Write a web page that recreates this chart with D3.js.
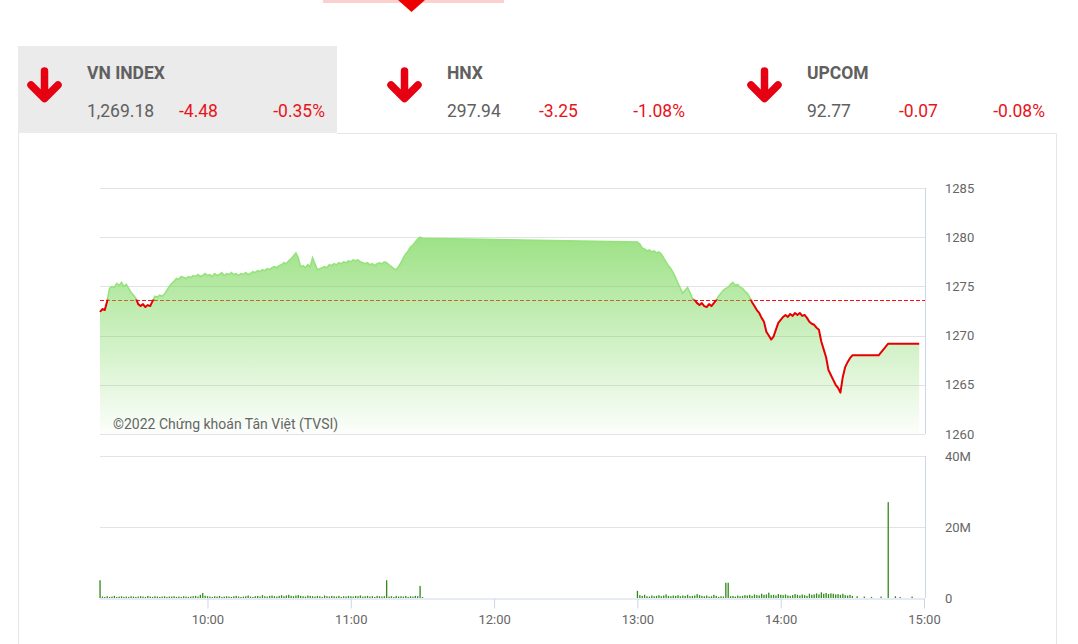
<!DOCTYPE html>
<html><head><meta charset="utf-8">
<script src="https://cdn.jsdelivr.net/npm/d3@7"></script>
<style>body{margin:0;background:#fff;} svg{display:block;font-family:Roboto,"Noto Sans",sans-serif;}</style>
</head><body><svg id="c" width="1078" height="644"></svg>
<script>
// ---------- data ----------
const indexNames = ["VN INDEX", "HNX", "UPCOM"];
const indexValues = ["1,269.18", "297.94", "92.77"];
const indexChanges = ["-4.48", "-3.25", "-0.07"];
const indexPercents = ["-0.35%", "-1.08%", "-0.08%"];

const referencePrice = 1273.66;
const priceTicks = [1260, 1265, 1270, 1275, 1280, 1285];
const volumeTicks = [0, 20, 40];
const volumeTickLabels = ["0", "20M", "40M"];
const timeTicks = ["10:00", "11:00", "12:00", "13:00", "14:00", "15:00"];
const watermark = "©2022 Chứng khoán Tân Việt (TVSI)";

// one value per minute from 09:15 to 11:30
const morningStart = "09:15";
const morningPrices = [
  1272.4,1272.7,1272.6,1273.5,1274.8,1275.0,1274.9,1275.3,1275.1,1275.4,
  1275.0,1275.2,1274.8,1274.4,1274.1,1273.8,1273.2,1273.0,1273.2,1272.9,
  1273.1,1273.0,1273.5,1274.0,1273.9,1274.1,1274.0,1274.2,1274.6,1275.0,
  1275.3,1275.5,1275.8,1275.7,1276.0,1275.9,
  1275.8,1276.0,1275.9,1276.1,1276.0,1276.2,1276.0,1276.1,1276.3,
  1276.1,1276.2,1276.0,1276.3,1276.1,1276.2,1276.4,1276.1,1276.3,1276.2,
  1276.4,1276.2,1276.3,1276.1,1276.3,1276.2,1276.4,1276.2,1276.3,1276.5,
  1276.4,1276.6,1276.5,1276.7,1276.6,1276.8,1276.7,1276.9,1277.0,1276.9,
  1277.1,1277.2,1277.4,1277.3,1277.6,1277.8,1278.1,1278.4,1277.9,1277.0,
  1277.1,1276.9,1277.2,1277.0,1277.9,1277.3,1276.7,1276.8,1276.9,1277.0,
  1276.9,1277.2,1277.1,1277.3,1277.2,1277.4,1277.3,1277.5,1277.4,1277.6,
  1277.5,1277.7,1277.6,1277.7,1277.5,1277.4,1277.3,1277.4,1277.2,1277.3,
  1277.1,1277.3,1277.4,1277.3,1277.5,1277.4,1277.2,1277.0,1276.8,1276.7,
  1277.0,1277.4,1277.9,1278.3,1278.6,1279.0,1279.2,1279.5,1279.8,1280.0,1279.9
];
// one value per minute from 13:00 to 14:30
const afternoonStart = "13:00";
const afternoonPrices = [
  1279.5,1279.3,1278.9,1278.8,1278.6,1278.7,1278.5,1278.6,1278.4,1278.5,
  1278.3,1277.9,1277.5,1277.1,1276.8,1276.4,1275.9,1275.3,1274.8,1274.3,
  1274.6,1274.9,1274.4,1273.8,1273.6,1273.3,1273.1,1273.3,1273.0,1272.9,
  1273.2,1273.0,1273.3,1273.6,1274.0,1274.3,1274.6,1274.8,1274.9,1275.2,
  1275.4,1275.1,1275.2,1274.9,1274.8,1274.5,1274.3,1273.9,1273.4,1273.0,
  1272.6,1272.3,1271.8,1271.4,1270.4,1270.0,1269.6,1269.9,1270.6,1271.3,
  1271.6,1271.9,1272.1,1271.9,1272.2,1272.0,1272.3,1272.1,1272.3,1272.0,
  1272.1,1271.8,1271.4,1271.2,1271.1,1270.8,1270.6,1269.4,1268.6,1267.8,
  1266.5,1266.0,1265.5,1265.0,1264.7,1264.2,1265.8,1266.8,1267.3,1267.7,1268.0
];
const closeTimes = ["14:41", "14:45", "14:58"];
const closePrices = [1268.0, 1269.18, 1269.18];

// volumes in millions, one per minute
const morningVolumes = [
  5.0,
  0.4,0.3,0.5,0.3,0.4,0.6,0.3,0.4,0.5,0.3,0.4,0.3,0.5,0.4,
  0.3,0.4,0.5,0.4,0.3,0.6,0.4,0.3,0.5,0.4,0.3,0.4,0.5,0.3,0.4,
  0.4,0.5,0.3,0.4,0.3,0.5,0.4,0.3,0.4,0.5,0.6,0.4,0.9,1.4,0.6,
  0.5,0.4,0.3,0.5,0.4,0.6,0.3,0.4,0.5,0.4,0.3,0.5,0.6,0.4,0.3,
  0.4,0.5,0.7,0.4,0.3,0.5,0.6,0.4,0.8,0.5,0.4,0.6,0.7,0.5,0.4,
  0.6,0.8,0.5,0.7,0.9,0.6,0.5,0.7,0.8,0.6,0.5,0.4,0.7,0.6,0.5,
  0.4,0.6,0.5,0.3,0.7,0.5,0.4,0.6,0.5,0.4,0.6,0.3,0.5,0.4,0.6,
  0.5,0.4,0.6,0.5,0.7,0.4,0.5,0.6,0.4,0.5,0.3,0.6,0.5,0.4,0.5,
  5.0,0.4,0.5,0.3,0.6,0.4,0.5,0.4,0.6,0.3,0.5,0.4,0.6,0.5,3.4,0.3
];
const afternoonVolumes = [
  2.0,0.8,0.6,0.9,0.5,0.4,0.7,0.5,0.6,0.8,0.5,0.7,1.0,0.6,0.5,
  0.7,0.6,0.8,0.5,0.7,0.6,0.9,0.5,0.6,0.7,1.1,0.8,0.6,0.5,0.7,
  0.4,0.5,0.9,0.6,0.3,0.5,0.4,4.3,4.3,0.5,0.6,0.4,0.7,0.5,0.6,
  0.8,0.7,0.9,0.6,1.0,0.8,0.7,1.2,0.9,1.0,1.5,0.8,0.9,0.7,1.1,
  0.9,0.8,1.0,0.7,0.6,0.8,1.1,0.9,0.7,1.0,0.8,0.6,1.2,0.9,1.0,
  1.3,1.0,1.6,1.2,1.4,1.1,1.3,1.2,1.0,1.1,0.9,1.2,0.8,0.7,0.9,0.6
];
const lateVolumeTimes = ["14:32", "14:35", "14:38", "14:42", "14:45", "14:48", "14:50", "14:55"];
const lateVolumes = [0.5, 0.4, 0.3, 0.4, 27.0, 0.5, 0.3, 0.4];

// ---------- build series ----------
const parseT = d3.timeParse("%H:%M");
const minuteSeries = (start, arr) => arr.map((v, i) => ({ t: d3.timeMinute.offset(parseT(start), i), v }));
const priceData = [
  ...minuteSeries(morningStart, morningPrices),
  ...minuteSeries(afternoonStart, afternoonPrices),
  ...closeTimes.map((t, i) => ({ t: parseT(t), v: closePrices[i] }))
];
const volumeData = [
  ...minuteSeries(morningStart, morningVolumes),
  ...minuteSeries(afternoonStart, afternoonVolumes),
  ...lateVolumeTimes.map((t, i) => ({ t: parseT(t), v: lateVolumes[i] }))
];

// ---------- drawing ----------
const svg = d3.select("#c");
const red = "#e8141b", grey = "#606060", axisCol = "#ccd6eb", gridCol = "#e3e3e3";

// top fragment
svg.append("rect").attr("x", 323).attr("y", 0).attr("width", 181).attr("height", 3).attr("fill", "#fdd0d0");
svg.append("path").attr("d", "M398,0L425,0L411.5,12Z").attr("fill", "#ee0000");

// header panels
svg.append("rect").attr("x", 18).attr("y", 46).attr("width", 319).attr("height", 87).attr("fill", "#ebebeb");
svg.append("path").attr("d", "M18.5,133V644M337,133.5H1056.5V644").attr("fill", "none").attr("stroke", "#e6e6e6");

const panelX = [0, 360, 720];
panelX.forEach((dx, i) => {
  const g = svg.append("g").attr("transform", `translate(${dx},0)`);
  g.append("path").attr("d", "M44.5,71V96M31,85L44.5,98.5L58,85")
    .attr("fill", "none").attr("stroke", "#e60012").attr("stroke-width", 7.5)
    .attr("stroke-linecap", "round").attr("stroke-linejoin", "round");
  g.append("text").attr("x", 87).attr("y", 79).attr("font-size", 17.5).attr("font-weight", "bold")
    .attr("fill", grey).text(indexNames[i]);
  g.append("text").attr("x", 87).attr("y", 117).attr("font-size", 17.5).attr("fill", grey).text(indexValues[i]);
  g.append("text").attr("x", 179).attr("y", 117).attr("font-size", 17.5).attr("fill", red).text(indexChanges[i]);
  g.append("text").attr("x", 325).attr("y", 117).attr("font-size", 17.5).attr("fill", red)
    .attr("text-anchor", "end").text(indexPercents[i]);
});

// scales
const x = d3.scaleTime().domain([parseT("09:15"), parseT("15:00")]).range([100, 924]);
const yP = d3.scaleLinear().domain([1260, 1285]).range([434, 188]);
const yV = d3.scaleLinear().domain([0, 40]).range([598, 456]);
const plotL = 100, plotR = 925;

// price grid
svg.append("g").selectAll("line").data(priceTicks).join("line")
  .attr("x1", plotL).attr("x2", plotR).attr("y1", d => Math.round(yP(d)) + 0.5).attr("y2", d => Math.round(yP(d)) + 0.5)
  .attr("stroke", gridCol);
svg.append("line").attr("x1", plotR + 0.5).attr("x2", plotR + 0.5).attr("y1", 188).attr("y2", 434).attr("stroke", axisCol);
svg.append("g").selectAll("text").data(priceTicks).join("text")
  .attr("x", 945).attr("y", d => yP(d) + 4.5).attr("font-size", 13).attr("fill", "#666").text(d => d);

// gradient
const defs = svg.append("defs");
const grad = defs.append("linearGradient").attr("id", "g1").attr("gradientUnits", "userSpaceOnUse")
  .attr("x1", 0).attr("x2", 0).attr("y1", 188).attr("y2", 434);
grad.append("stop").attr("offset", 0).attr("stop-color", "rgb(112,212,78)").attr("stop-opacity", 0.85);
grad.append("stop").attr("offset", 1).attr("stop-color", "rgb(112,212,78)").attr("stop-opacity", 0.02);
const yRef = yP(referencePrice);
const yRefPix = Math.round(yRef) + 0.5;
defs.append("clipPath").attr("id", "above").append("rect").attr("x", 0).attr("y", 0).attr("width", 1078).attr("height", yRef);
defs.append("clipPath").attr("id", "below").append("rect").attr("x", 0).attr("y", yRef).attr("width", 1078).attr("height", 644 - yRef);

// reference dashed line
svg.append("line").attr("x1", plotL).attr("x2", plotR).attr("y1", yRefPix).attr("y2", yRefPix)
  .attr("stroke", "#ff1010").attr("stroke-width", 1).attr("stroke-dasharray", "4,2");

// area + line
const area = d3.area().x(d => x(d.t)).y0(yP(1260)).y1(d => yP(d.v));
svg.append("path").datum(priceData).attr("d", area).attr("fill", "url(#g1)");
const line = d3.line().x(d => x(d.t)).y(d => yP(d.v));
svg.append("path").datum(priceData).attr("d", line).attr("fill", "none")
  .attr("stroke", "#96e27c").attr("stroke-width", 1.6).attr("clip-path", "url(#above)");
svg.append("path").datum(priceData).attr("d", line).attr("fill", "none")
  .attr("stroke", "#e60000").attr("stroke-width", 2).attr("stroke-linejoin", "round").attr("clip-path", "url(#below)");

// watermark
svg.append("text").attr("x", 113).attr("y", 429).attr("font-size", 14).attr("fill", "#666").text(watermark);

// volume grid
svg.append("g").selectAll("line").data(volumeTicks.filter(d => d > 0)).join("line")
  .attr("x1", plotL).attr("x2", plotR).attr("y1", d => Math.round(yV(d)) + 0.5).attr("y2", d => Math.round(yV(d)) + 0.5)
  .attr("stroke", gridCol);
svg.append("line").attr("x1", plotR + 0.5).attr("x2", plotR + 0.5).attr("y1", 456).attr("y2", 598).attr("stroke", axisCol);
svg.append("g").selectAll("text").data(volumeTicks).join("text")
  .attr("x", 945).attr("y", d => yV(d) + 4.5).attr("font-size", 13).attr("fill", "#666")
  .text((d, i) => volumeTickLabels[i]);

// volume bars
svg.append("g").selectAll("rect").data(volumeData).join("rect")
  .attr("x", d => x(d.t) - 0.6).attr("width", 1.3)
  .attr("y", d => yV(d.v)).attr("height", d => yV(0) - yV(d.v))
  .attr("fill", "#2f8a18");

// x axis
const xAxis = d3.axisBottom(x).tickValues(timeTicks.map(parseT)).tickFormat(d3.timeFormat("%H:%M")).tickSize(10).tickPadding(6);
const gx = svg.append("g").attr("transform", "translate(0,598.5)").call(xAxis);
gx.select(".domain").attr("stroke", axisCol).attr("d", `M${plotL},0.5H${plotR}`);
gx.selectAll(".tick line").attr("stroke", axisCol);
gx.selectAll(".tick text").attr("font-size", 13).attr("fill", "#666").attr("font-family", "Roboto, sans-serif");
</script></body></html>
